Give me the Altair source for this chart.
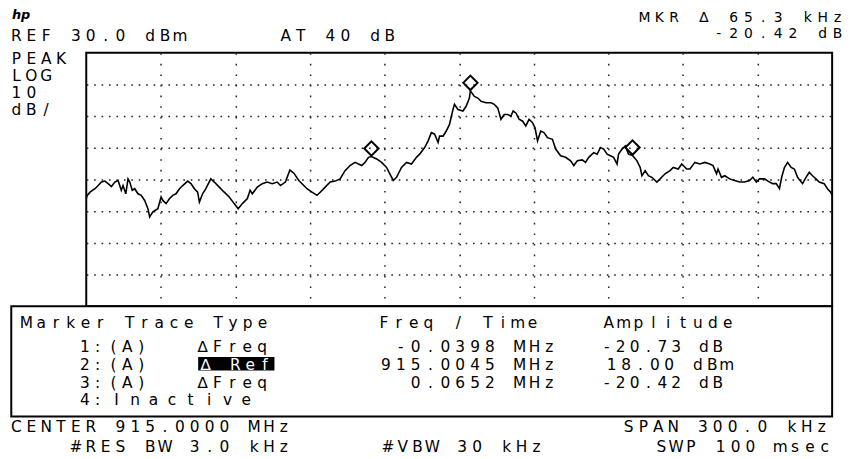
import altair as alt
import pandas as pd

# ---- trace data (offset from 915.0000 MHz centre, kHz ; amplitude dBm) ----
freq_khz = [
    -150.0, -149.6, -148.5, -146.5, -145.2, -143.9, -142.5, -141.2, -139.9, -138.5,
    -137.2, -135.9, -135.2, -134.1, -133.2, -132.5, -131.5, -130.5, -129.2, -127.9,
    -126.5, -125.2, -124.5, -123.2, -121.2, -119.9, -119.2, -117.9, -116.5, -115.2,
    -113.9, -112.5, -111.2, -109.2, -107.9, -106.5, -105.2, -104.5, -103.2, -101.9,
    -99.9, -98.5, -96.5, -94.5, -92.5, -90.5, -88.9, -87.2, -85.2, -84.1,
    -83.2, -81.2, -79.2, -77.2, -75.2, -73.2, -71.9, -69.9, -68.1, -66.5,
    -64.5, -62.5, -61.2, -59.2, -57.2, -55.9, -53.9, -51.9, -49.9, -47.9,
    -45.9, -43.9, -41.9, -40.5, -39.2, -37.9, -36.5, -35.3, -33.2, -31.2,
    -29.2, -27.9, -26.5, -25.2, -23.2, -21.2, -19.2, -17.2, -15.9, -13.9,
    -12.5, -11.2, -9.9, -8.5, -7.9, -6.5, -5.2, -3.9, -2.5, -1.9,
    -0.5, 1.5, 2.8, 4.1, 4.5, 6.1, 7.5, 8.8, 10.8, 12.8,
    14.1, 15.5, 16.8, 18.1, 19.5, 20.8, 21.7, 22.8, 24.1, 25.5,
    26.8, 28.1, 29.5, 30.5, 31.5, 32.8, 34.1, 35.5, 37.5, 38.8,
    40.8, 42.8, 44.8, 46.1, 47.5, 49.5, 50.8, 52.1, 54.1, 55.5,
    56.8, 58.1, 59.5, 60.8, 62.1, 63.5, 64.1, 65.5, 66.8, 68.1,
    69.7, 71.5, 72.8, 73.5, 74.8, 76.1, 77.5, 79.5, 80.8, 82.8,
    84.8, 86.1, 88.1, 89.5, 91.5, 92.8, 94.8, 96.8, 98.8, 100.8,
    102.1, 103.5, 104.1, 105.5, 106.8, 108.8, 110.8, 112.8, 114.8, 116.8,
    118.1, 119.5, 120.8, 122.8, 124.8, 126.1, 127.5, 128.8, 129.7, 130.8,
    132.1, 133.5, 134.8, 136.1, 138.1, 139.5, 140.8, 142.1, 143.5, 144.8,
    146.8, 148.1, 149.4, 150.0,
]
amp_dbm = [
    -16.0, -15.0, -14.0, -12.9, -11.9, -10.8, -10.5, -11.3, -12.2, -10.8,
    -10.3, -13.4, -11.9, -14.5, -9.8, -10.8, -13.4, -12.9, -14.5, -15.0,
    -16.6, -19.2, -21.8, -20.2, -19.2, -15.5, -16.6, -17.6, -16.0, -15.0,
    -14.5, -12.9, -11.9, -10.5, -11.3, -12.9, -14.0, -17.1, -14.5, -12.9,
    -9.8, -10.8, -12.4, -14.0, -15.5, -17.6, -19.2, -17.6, -16.0, -13.4,
    -14.5, -12.4, -11.3, -10.8, -11.3, -10.8, -11.9, -10.8, -7.0, -8.0,
    -10.3, -11.9, -12.9, -14.0, -15.0, -14.0, -12.4, -10.8, -10.5, -9.8,
    -7.2, -5.6, -4.6, -5.1, -5.6, -4.6, -3.0, -2.73, -3.5, -4.6,
    -6.2, -8.2, -10.3, -9.3, -6.2, -4.6, -5.1, -3.0, -2.0, 0.1,
    2.2, 4.8, 4.3, 1.7, 3.7, 3.7, 5.3, 7.4, 12.1, 13.7,
    12.1, 11.6, 13.1, 15.7, 18.0, 16.2, 15.7, 14.7, 14.2, 14.2,
    13.7, 12.6, 9.0, 10.5, 10.5, 10.0, 11.6, 11.0, 9.0, 8.4,
    6.9, 9.0, 7.9, 6.3, 2.2, 5.3, 4.8, 3.2, 2.7, -0.4,
    -2.5, -3.0, -4.1, -5.6, -4.1, -3.8, -4.6, -3.0, -1.5, -2.0,
    0.1, -0.4, -2.0, -2.5, -3.0, -5.1, -2.0, -0.4, 0.6, -2.0,
    -2.42, -4.1, -6.2, -8.8, -7.2, -8.8, -9.3, -10.8, -9.8, -8.2,
    -7.2, -6.2, -6.7, -5.1, -6.7, -6.7, -4.6, -5.1, -4.6, -5.1,
    -5.6, -8.2, -6.7, -9.3, -8.8, -9.8, -10.3, -10.8, -10.8, -10.3,
    -9.3, -10.8, -9.8, -9.8, -10.8, -11.3, -11.3, -12.9, -9.3, -6.2,
    -4.6, -6.2, -6.7, -9.3, -11.3, -9.3, -7.7, -8.8, -9.8, -10.8,
    -11.3, -12.9, -14.0, -15.0,
]

# ---- markers ----
marker_freq_khz = [-35.3, 4.5, 69.7]
marker_amp_dbm = [-2.73, 18.00, -2.42]

# ---- screen annotations: (text, left x, baseline y, advance, font size) in page pixels ----
top_text = [
    ("REF 30.0 dBm", 11, 39, 15, 15.5),
    ("AT 40 dB", 283, 39, 15, 15.5),
    ("MKR \u2206 65.3 kHz", 645, 19.5, 15, 14),
    ("-20.42 dB", 720, 36, 15, 14),
    ("PEAK", 11, 62, 15, 15.5),
    ("LOG", 11, 80, 15, 15.5),
    ("10", 11, 97, 15, 15.5),
    ("dB/", 11, 114, 15, 15.5),
]
table_text = [
    ("Marker Trace Type", 21, 329, 14.9, 15.5),
    ("Freq / Time", 382, 329, 15, 15.5),
    ("Amplitude", 609, 329, 15, 15.5),
    ("1:", 80, 353, 13, 15.5), ("(A)", 109, 353, 14, 15.5), ("\u2206Freq", 199, 353, 15, 15.5),
    ("-0.0398 MHz", 399, 353, 15, 15.5), ("-20.73 dB", 607, 353, 14, 15.5),
    ("2:", 80, 371, 13, 15.5), ("(A)", 109, 371, 14, 15.5),
    ("915.0045 MHz", 384, 371, 15, 15.5), ("18.00 dBm", 612, 371, 14.5, 15.5),
    ("3:", 80, 389, 13, 15.5), ("(A)", 109, 389, 14, 15.5), ("\u2206Freq", 199, 389, 15, 15.5),
    ("0.0652 MHz", 414, 389, 15, 15.5), ("-20.42 dB", 607, 389, 14, 15.5),
    ("4:", 80, 407, 13, 15.5), ("Inactive", 112, 407, 18.7, 15.5),
    ("CENTER 915.0000 MHz", 11, 434, 15, 15.5),
    ("#RES BW 3.0 kHz", 71, 454, 15, 15.5),
    ("#VBW 30 kHz", 386, 454, 15, 15.5),
    ("SPAN 300.0 kHz", 629, 434, 15, 15.5),
    ("SWP 100 msec", 662, 454, 15, 15.5),
]
highlight_text = [("\u2206 Ref", 202, 371, 15, 15.5)]

PX0, PY0 = 87.0, 51.0   # page position of plot origin
W, H = 753, 256


def place(items, glyph_w=11.0):
    rows = []
    for text, x0, base, adv, fs in items:
        for i, c in enumerate(text):
            if c == " ":
                continue
            rows.append({"ch": c, "x": x0 + i * adv + glyph_w / 2 - PX0,
                         "y": base - PY0, "fs": fs})
    return pd.DataFrame(rows)


trace = pd.DataFrame({"f": freq_khz, "a": amp_dbm})
mk = pd.DataFrame({"f": marker_freq_khz, "a": marker_amp_dbm})

xs = alt.Scale(domain=[-150, 150], nice=False, zero=False)
ys = alt.Scale(domain=[-50, 30], nice=False, zero=False)

x_axis = alt.Axis(values=[-120, -90, -60, -30, 0, 30, 60, 90, 120], grid=True,
                  gridDash=[1.6, 9.1], gridColor="#222222", gridWidth=1.5,
                  labels=False, ticks=False, domain=False, title=None)
y_axis = alt.Axis(values=[-40, -30, -20, -10, 0, 10, 20], grid=True,
                  gridDash=[1.6, 5.9], gridColor="#222222", gridWidth=1.5,
                  labels=False, ticks=False, domain=False, title=None)

line = alt.Chart(trace).mark_line(color="black", strokeWidth=1.6, clip=True).encode(
    x=alt.X("f:Q", scale=xs, axis=x_axis),
    y=alt.Y("a:Q", scale=ys, axis=y_axis),
    order="f:Q",
)

diamonds = alt.Chart(mk).mark_point(shape="diamond", filled=False, size=210,
                                    strokeWidth=2, color="black", opacity=1,
                                    yOffset=-8).encode(
    x=alt.X("f:Q", scale=xs),
    y=alt.Y("a:Q", scale=ys),
)

box = alt.Chart(pd.DataFrame({"k": [0]})).mark_rect(
    fill="white", stroke="black", strokeWidth=2).encode(
    x=alt.value(11.3 - PX0), x2=alt.value(840 - PX0),
    y=alt.value(307 - PY0), y2=alt.value(418.3 - PY0),
)

hl = alt.Chart(pd.DataFrame({"k": [0]})).mark_rect(fill="black").encode(
    x=alt.value(200 - PX0), x2=alt.value(277 - PX0),
    y=alt.value(358.3 - PY0), y2=alt.value(371.7 - PY0),
)


def text_layer(df, color):
    return alt.Chart(df).mark_text(font="DejaVu Sans", align="center",
                                   baseline="alphabetic", color=color).encode(
        x=alt.X("x:Q", scale=None, axis=None),
        y=alt.Y("y:Q", scale=None, axis=None),
        size=alt.Size("fs:Q", scale=None, legend=None),
        text="ch:N",
    )


txt_top = text_layer(place(top_text), "black")
txt_tab = text_layer(place(table_text), "black")
txt_hl = text_layer(place(highlight_text), "white")

logo = alt.Chart(pd.DataFrame({"t": ["hp"]})).mark_text(
    font="DejaVu Sans", fontSize=13, fontStyle="italic", fontWeight="bold",
    align="left", baseline="alphabetic", color="black").encode(
    x=alt.value(12 - PX0), y=alt.value(17 - PY0), text="t:N")

chart = alt.layer(line, diamonds, box, hl, txt_top, txt_tab, txt_hl, logo).properties(
    width=W, height=H,
    autosize=alt.AutoSizeParams(type="none"),
    padding={"left": 79, "top": 43, "right": 15, "bottom": 152},
    background="white",
).configure_view(stroke="black", strokeWidth=2)

chart.save("out.html", embed_options={"renderer": "svg", "actions": False})
